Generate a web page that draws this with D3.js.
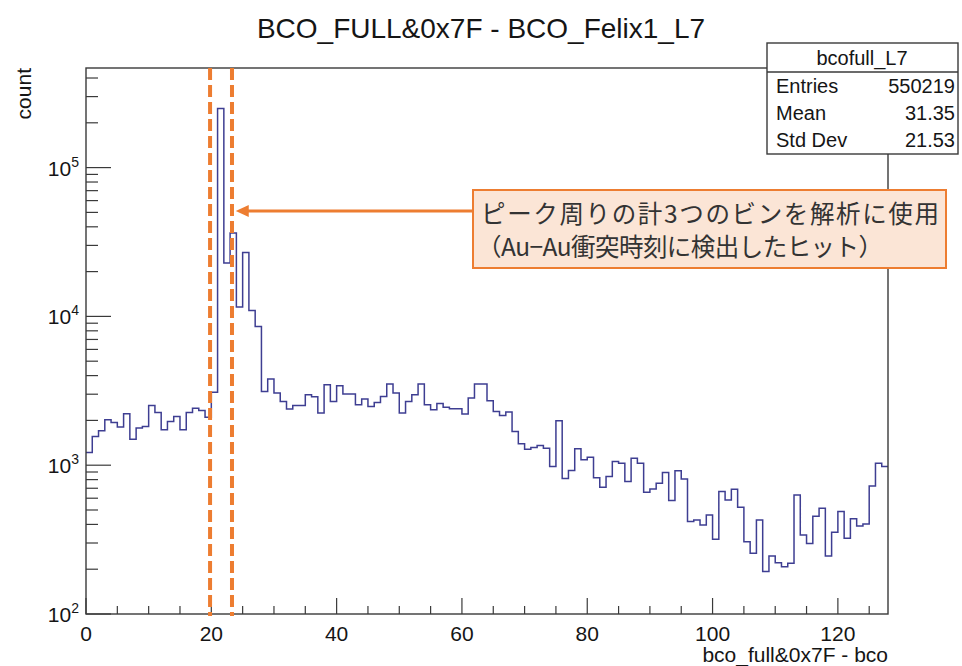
<!DOCTYPE html>
<html><head><meta charset="utf-8">
<script src="https://cdn.jsdelivr.net/npm/d3@7"></script>
<style>body{margin:0;background:#fff}</style>
</head><body><svg id="c" width="962" height="666"></svg>
<script>
// ---------- data ----------
const binLow = d3.range(0, 128);           // bin lower edges (bin width 1)
const counts = [
 1216,1558,1702,2018,1935,1803,2215,1496,1775,1820,
 2519,2260,1729,1966,2124,1729,2260,2418,2331,2104,
 3098,249400,22850,36370,11560,26930,10970,8560,3128,3792,
 3051,2679,2382,2519,2519,2972,2882,2239,3469,2679,
 3417,3004,3010,2546,2781,2479,2638,2895,3508,3051,
 2239,2679,2972,3508,2546,2357,2598,2449,2392,2392,
 2205,2825,3508,3508,2708,2295,2157,2274,1683,1392,
 1282,1314,1355,1302,979,1987,813,920,1288,1086,
 1133,824,711,839,1058,1032,776,1115,1032,659,
 693,757,892,578,916,809,418,429,397,463,
 318,665,584,690,522,306,256,429,193,245,
 221,208,219,631,340,298,453,514,245,354,
 488,323,436,391,403,726,1032,979
];
const xTickValues = [0, 20, 40, 60, 80, 100, 120];
const yDecades = [2, 3, 4, 5];
const statLabels = ["Entries", "Mean", "Std Dev"];
const statValues = ["550219", "31.35", "21.53"];
const histName = "bcofull_L7";
const titleText = "BCO_FULL&0x7F - BCO_Felix1_L7";
const xTitle = "bco_full&0x7F - bco";
const yTitle = "count";
const markerX = [19.8, 23.3];
const arrowTip = [23.9, 51000];
const noteLines = ["ピーク周りの計3つのビンを解析に使用", "（Au−Au衝突時刻に検出したヒット）"];

// ---------- layout ----------
const L = 86, R = 888, T = 68, B = 614;
const svg = d3.select("#c");
const x = d3.scaleLinear().domain([0, 128]).range([L, R]);
const y = d3.scaleLog().domain([100, 4.67e5]).range([B, T]);
const ink = "#151515", orange = "#ed7d31", font = "'Liberation Sans', Arial, sans-serif";

// histogram step line
const pts = [];
binLow.forEach((b, i) => { pts.push([x(b), y(counts[i])]); pts.push([x(b + 1), y(counts[i])]); });
svg.append("path").attr("d", d3.line()(pts)).attr("fill", "none")
  .attr("stroke", "#3e3e92").attr("stroke-width", 1.5);

// frame
svg.append("rect").attr("x", L).attr("y", T).attr("width", R - L).attr("height", B - T)
  .attr("fill", "none").attr("stroke", "#3a3a3a").attr("stroke-width", 1.4);

// x ticks
const xg = svg.append("g");
d3.range(0, 129, 5).forEach(v => {
  const major = v % 20 === 0;
  xg.append("line").attr("x1", x(v)).attr("x2", x(v)).attr("y1", B).attr("y2", B - (major ? 16 : 8))
    .attr("stroke", "#3a3a3a").attr("stroke-width", 1.2);
});
xTickValues.forEach(v => {
  xg.append("text").attr("x", x(v)).attr("y", 641).attr("text-anchor", "middle")
    .attr("font-family", font).attr("font-size", 21).attr("fill", ink).text(v);
});
svg.append("text").attr("x", R).attr("y", 662).attr("text-anchor", "end")
  .attr("font-family", font).attr("font-size", 21).attr("fill", ink).text(xTitle);

// y ticks
const yg = svg.append("g");
yDecades.forEach(d => {
  for (let k = 1; k <= 9; k++) {
    const v = k * Math.pow(10, d);
    if (v > y.domain()[1]) break;
    yg.append("line").attr("x1", L).attr("x2", L + (k === 1 ? 25 : 12))
      .attr("y1", y(v)).attr("y2", y(v)).attr("stroke", "#3a3a3a").attr("stroke-width", 1.2);
  }
  const t = yg.append("text").attr("x", 79).attr("y", y(Math.pow(10, d)) + 8)
    .attr("text-anchor", "end").attr("font-family", font).attr("font-size", 21).attr("fill", ink);
  t.append("tspan").text("10");
  t.append("tspan").attr("dy", -9).attr("font-size", 14).text(d);
});
svg.append("text").attr("transform", `translate(31,${T}) rotate(-90)`).attr("text-anchor", "end")
  .attr("font-family", font).attr("font-size", 21).attr("fill", ink).text(yTitle);

// title
svg.append("text").attr("x", 481).attr("y", 38).attr("text-anchor", "middle")
  .attr("font-family", font).attr("font-size", 28).attr("fill", ink).text(titleText);

// stat box
const sb = svg.append("g");
sb.append("rect").attr("x", 767).attr("y", 43).attr("width", 191).attr("height", 111)
  .attr("fill", "#fff").attr("stroke", "#3a3a3a").attr("stroke-width", 1.4);
sb.append("line").attr("x1", 767).attr("x2", 958).attr("y1", 72).attr("y2", 72)
  .attr("stroke", "#3a3a3a").attr("stroke-width", 1.4);
sb.append("text").attr("x", 862).attr("y", 65).attr("text-anchor", "middle")
  .attr("font-family", font).attr("font-size", 20).attr("fill", ink).text(histName);
statLabels.forEach((s, i) => {
  const yy = 93 + i * 27;
  sb.append("text").attr("x", 776).attr("y", yy).attr("font-family", font)
    .attr("font-size", 20).attr("fill", ink).text(s);
  sb.append("text").attr("x", 955).attr("y", yy).attr("text-anchor", "end").attr("font-family", font)
    .attr("font-size", 20).attr("fill", ink).text(statValues[i]);
});

// dashed marker lines
markerX.forEach(v => {
  svg.append("line").attr("x1", x(v)).attr("x2", x(v)).attr("y1", T).attr("y2", B + 2)
    .attr("stroke", orange).attr("stroke-width", 4).attr("stroke-dasharray", "12,5");
});

// arrow
const ax = x(arrowTip[0]), ay = y(arrowTip[1]);
svg.append("line").attr("x1", 473).attr("x2", ax + 10).attr("y1", ay).attr("y2", ay)
  .attr("stroke", orange).attr("stroke-width", 3);
svg.append("path").attr("d", `M${ax},${ay} L${ax + 13},${ay - 6} L${ax + 13},${ay + 6} Z`).attr("fill", orange);

// note box
svg.append("rect").attr("x", 473).attr("y", 190).attr("width", 473).attr("height", 78)
  .attr("fill", "#fbe5d6").attr("stroke", orange).attr("stroke-width", 2);
const noteWidths = [458, 406];
noteLines.forEach((s, i) => {
  svg.append("text").attr("x", i === 0 ? 481 : 477).attr("y", 223 + i * 33)
    .attr("font-family", "'Noto Sans CJK JP', sans-serif").attr("font-size", 24.5)
    .attr("textLength", noteWidths[i]).attr("lengthAdjust", "spacing")
    .attr("fill", "#333").text(s);
});
</script></body></html>
